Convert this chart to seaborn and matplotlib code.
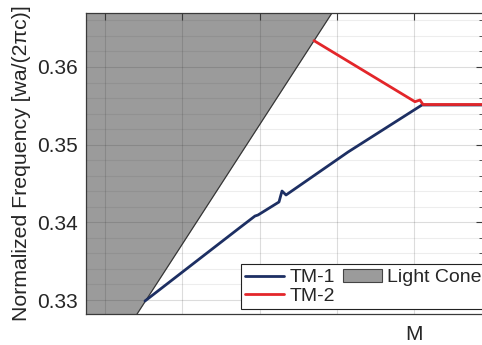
import numpy as np
import pandas as pd
import matplotlib
matplotlib.use("Agg")
import matplotlib.pyplot as plt
import seaborn as sns
from matplotlib.ticker import MultipleLocator
from matplotlib.patches import Patch
from matplotlib.lines import Line2D

# Band data along the Brillouin-zone path (arbitrary k units, M at 4)
tm1_k = [0.517, 1.721, 1.940, 1.979, 2.251, 2.290, 2.342, 3.144, 4.101, 4.877]
tm1_freq = [0.32987, 0.33914, 0.34081, 0.34094, 0.34262, 0.34403, 0.34352, 0.34905, 0.35511, 0.35511]

tm2_k = [2.704, 4.010, 4.075, 4.114, 4.877]
tm2_freq = [0.36339, 0.35553, 0.35575, 0.35517, 0.35517]

# Light line bounding the light cone
cone_k = [0.40, 2.95]
cone_freq = [0.32798, 0.36717]

k_ticks = [0, 1, 2, 3, 4]
k_labels = ["", "", "", "", "M"]
freq_ticks = [0.33, 0.34, 0.35, 0.36]

sns.set_theme(style="white")
plt.rcParams["font.family"] = ["Liberation Sans", "DejaVu Sans"]

text_col = "#262626"
navy = "#1d2f63"
red = "#e3262a"
cone_gray = "#9b9b9b"

fig = plt.figure(figsize=(4.82, 3.45), dpi=100)
ax = fig.add_axes([0.1784, 0.0899, 0.8236, 0.8724])

tm1 = pd.DataFrame({"k": tm1_k, "freq": tm1_freq})
tm2 = pd.DataFrame({"k": tm2_k, "freq": tm2_freq})

# Light cone: shaded region to the left of the light line
ax.fill_betweenx(cone_freq, [-2, -2], cone_k, color=cone_gray, zorder=1,
                 linewidth=0)
ax.plot(cone_k, cone_freq, color="#333333", lw=0.8, zorder=1.5)

sns.lineplot(data=tm1, x="k", y="freq", sort=False, color=navy, lw=2.0,
             ax=ax, zorder=3)
sns.lineplot(data=tm2, x="k", y="freq", sort=False, color=red, lw=2.0,
             ax=ax, zorder=4)

ax.set_xlim(-0.246, 4.89)
ax.set_ylim(0.3282, 0.36695)

ax.set_xticks(k_ticks)
ax.set_xticklabels(k_labels)
ax.set_yticks(freq_ticks)
ax.set_yticklabels([f"{v:.2f}" for v in freq_ticks])
ax.yaxis.set_minor_locator(MultipleLocator(0.002))

ax.set_axisbelow(False)
ax.grid(True, which="major", color="#262626", alpha=0.16, lw=0.8)
ax.grid(True, which="minor", axis="y", color="#262626", alpha=0.08, lw=0.8)

ax.tick_params(axis="both", which="both", direction="in", colors="#3a3a3a",
               labelcolor=text_col, labelsize=15, top=True, right=True)
ax.tick_params(axis="both", which="major", length=5, width=0.8)
ax.tick_params(axis="y", which="minor", length=3, width=0.6)
ax.tick_params(axis="x", pad=8)
ax.tick_params(axis="y", pad=6)

for s in ax.spines.values():
    s.set_visible(True)
    s.set_color("#3a3a3a")
    s.set_linewidth(0.9)

ax.set_xlabel("")
ax.set_ylabel("Normalized Frequency [wa/(2πc)]", fontsize=15.3,
              color=text_col, labelpad=4)

handles = [
    Line2D([], [], color=navy, lw=2.0, label="TM-1"),
    Line2D([], [], color=red, lw=2.0, label="TM-2"),
    Patch(facecolor=cone_gray, edgecolor="#444444", lw=0.8, label="Light Cone"),
]
leg = ax.legend(handles=handles, ncol=2, loc="lower right",
                bbox_to_anchor=(1.006, 0.016), fontsize=14, frameon=True,
                fancybox=False, framealpha=1, edgecolor="#222222",
                handlelength=2.0, handletextpad=0.25, columnspacing=0.42,
                borderpad=0.22, labelspacing=0.05, borderaxespad=0)
leg.get_frame().set_linewidth(0.8)
for t in leg.get_texts():
    t.set_color(text_col)

fig.savefig("out.png", dpi=100)
